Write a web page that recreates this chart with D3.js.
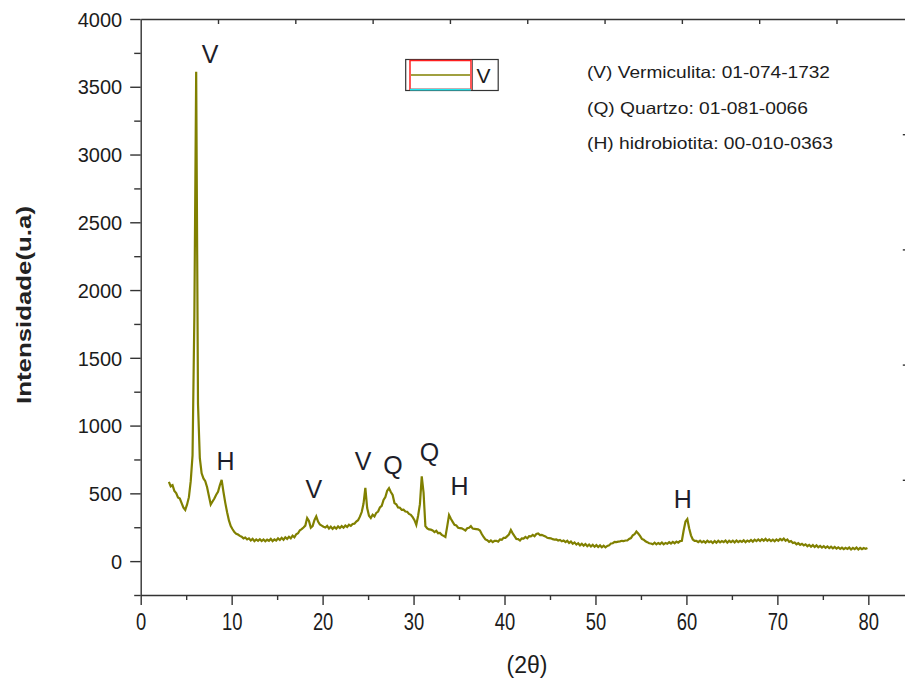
<!DOCTYPE html>
<html>
<head>
<meta charset="utf-8">
<script src="https://cdn.jsdelivr.net/npm/d3@7"></script>
<style>
  body { margin: 0; background: #fff; }
  svg { display: block; font-family: "Liberation Sans", Arial, sans-serif; }
</style>
</head>
<body>
<svg id="chart" width="905" height="682"></svg>
<script>
// Step-scan XRD pattern: first angle and step in degrees 2θ
const scanStart = 3.1;
const scanStep = 0.2;

// Counts per step, one row per 2° (3.1–4.9, 5.1–6.9, ...)
const intensity = [
  585, 552, 560, 518, 502, 470, 462, 428, 395, 378,
  418, 472, 590, 780, 1810, 3610, 1160, 760, 648, 610,
  590, 545, 480, 418, 440, 462, 490, 512, 560, 600,
  510, 430, 360, 300, 258, 235, 214, 202, 196, 186,
  180, 168, 174, 160, 168, 152, 164, 148, 160, 150,
  162, 148, 160, 146, 158, 150, 164, 148, 160, 152,
  168, 156, 172, 158, 176, 164, 180, 168, 188, 176,
  198, 206, 228, 236, 248, 262, 318, 296, 246, 258,
  302, 330, 292, 270, 262, 254, 248, 260, 240, 254,
  238, 252, 240, 256, 244, 258, 246, 262, 252, 268,
  260, 274, 276, 292, 302, 328, 362, 425, 540, 392,
  335, 318, 342, 330, 356, 366, 396, 408, 452, 472,
  520, 538, 510, 488, 428, 420, 396, 394, 378, 380,
  366, 364, 348, 342, 324, 302, 268, 335, 420, 625,
  505, 258, 242, 234, 232, 226, 214, 224, 206, 208,
  194, 186, 178, 256, 340, 312, 290, 268, 264, 246,
  244, 242, 234, 226, 242, 246, 258, 240, 238, 236,
  234, 226, 200, 178, 160, 154, 142, 152, 140, 150,
  150, 144, 160, 158, 172, 172, 184, 198, 230, 205,
  184, 164, 162, 152, 168, 166, 178, 168, 184, 182,
  194, 184, 200, 204, 192, 194, 188, 182, 172, 170,
  168, 162, 158, 160, 152, 156, 146, 152, 140, 150,
  134, 144, 128, 138, 122, 132, 116, 128, 114, 126,
  110, 122, 108, 120, 106, 118, 104, 116, 102, 114,
  102, 112, 116, 130, 132, 142, 140, 144, 146, 150,
  148, 152, 152, 164, 170, 190, 198, 218, 204, 186,
  164, 158, 146, 140, 132, 130, 124, 136, 124, 134,
  126, 138, 124, 134, 128, 140, 130, 142, 132, 144,
  136, 148, 150, 228, 292, 310, 242, 190, 160, 150,
  150, 140, 150, 138, 148, 136, 150, 140, 146, 134,
  148, 136, 150, 138, 148, 140, 152, 136, 150, 140,
  150, 138, 152, 140, 150, 142, 154, 140, 152, 144,
  156, 144, 158, 148, 160, 148, 162, 150, 164, 150,
  160, 148, 158, 146, 160, 150, 164, 154, 166, 150,
  160, 142, 148, 134, 138, 124, 132, 120, 128, 116,
  124, 110, 120, 106, 118, 104, 116, 102, 112, 100,
  110, 98, 108, 96, 106, 94, 104, 92, 102, 90,
  100, 88, 98, 90, 100, 86, 98, 88, 100, 86,
  98, 88, 96, 90, 96
];

// Axis ranges and ticks
const xDomain = [0, 85];
const yDomain = [-250, 4000];
const xTickValues = [0, 10, 20, 30, 40, 50, 60, 70, 80];
const xMinorTickValues = [5, 15, 25, 35, 45, 55, 65, 75, 85];
const yTickValues = [0, 500, 1000, 1500, 2000, 2500, 3000, 3500, 4000];
const yMinorTickValues = [-250, 250, 750, 1250, 1750, 2250, 2750, 3250, 3750];
const topTickValues = [8.5, 17, 25.5, 34, 42.5, 51, 59.5, 68, 76.5];
const rightTickValues = [600, 1450, 2300, 3150];

// Phase identification letters (angle, intensity level of the letter baseline)
const phaseLetters = ["V", "H", "V", "V", "Q", "Q", "H", "H"];
const phaseLetterTheta = [7.62, 9.32, 19.05, 24.44, 27.74, 31.75, 35.05, 59.6];
const phaseLetterLevel = [3675, 672, 466, 672, 643, 739, 488, 392];

// Reference cards
const phaseCards = [
  "(V) Vermiculita: 01-074-1732",
  "(Q) Quartzo: 01-081-0066",
  "(H) hidrobiotita: 00-010-0363"
];
const seriesName = "V";

const xTitle = "(2θ)";
const yTitle = "Intensidade(u.a)";

const traceColor = "#808000";
const axisColor = "#333";
const textColor = "#1c1c1c";

const svg = d3.select("#chart");

const x = d3.scaleLinear().domain(xDomain).range([140.7, 913.8]);
const y = d3.scaleLinear().domain(yDomain).range([595, 19]);

const points = intensity.map((v, i) => ({ t: scanStart + i * scanStep, v }));

// Trace
svg.append("path")
  .datum(points)
  .attr("fill", "none")
  .attr("stroke", traceColor)
  .attr("stroke-width", 2.2)
  .attr("stroke-linejoin", "miter")
  .attr("d", d3.line().x(d => x(d.t)).y(d => y(d.v)));

function styleAxis(g) {
  g.selectAll("path, line").attr("stroke", axisColor).attr("stroke-width", 1.4);
  g.selectAll("text").attr("fill", textColor);
}

// Bottom axis
const gx = svg.append("g").attr("transform", `translate(0,${y(yDomain[0])})`);
gx.call(d3.axisBottom(x).tickValues(xTickValues).tickSize(10).tickSizeOuter(0).tickFormat(d3.format("d")));
gx.append("g").call(d3.axisBottom(x).tickValues(xMinorTickValues).tickSize(5).tickFormat(""))
  .select(".domain").remove();
gx.selectAll(".tick text")
  .attr("font-size", 23)
  .attr("y", 0)
  .attr("dy", 0)
  .attr("transform", "translate(0,35) scale(0.8,1)")
  .attr("font-family", "Liberation Sans, Arial, sans-serif");
styleAxis(gx);

// Left axis
const gy = svg.append("g").attr("transform", `translate(${x(xDomain[0])},0)`);
gy.call(d3.axisLeft(y).tickValues(yTickValues).tickSize(10.5).tickSizeOuter(0).tickFormat(d3.format("d")));
gy.append("g").call(d3.axisLeft(y).tickValues(yMinorTickValues).tickSize(6.5).tickFormat(""))
  .select(".domain").remove();
gy.selectAll(".tick text")
  .attr("font-size", 20)
  .attr("x", -18.5)
  .attr("dy", "0.36em")
  .attr("font-family", "Liberation Sans, Arial, sans-serif");
styleAxis(gy);

// Top frame with inward ticks
const gt = svg.append("g").attr("transform", `translate(0,${y(yDomain[1])})`);
gt.call(d3.axisTop(x).tickValues(topTickValues).tickSize(-5).tickSizeOuter(0).tickFormat(""));
styleAxis(gt);

// Right frame with inward ticks
const gr = svg.append("g").attr("transform", `translate(${x(xDomain[1])},0)`);
gr.call(d3.axisRight(y).tickValues(rightTickValues).tickSize(-11).tickSizeOuter(0).tickFormat(""));
styleAxis(gr);

// Axis titles
svg.append("text")
  .attr("x", 527)
  .attr("y", 673)
  .attr("text-anchor", "middle")
  .attr("font-size", 23)
  .attr("fill", textColor)
  .text(xTitle);

svg.append("text")
  .attr("transform", "translate(31,305) rotate(-90)")
  .attr("text-anchor", "middle")
  .attr("font-size", 21)
  .attr("font-weight", "bold")
  .attr("textLength", 198)
  .attr("lengthAdjust", "spacingAndGlyphs")
  .attr("fill", "#222")
  .text(yTitle);

// Phase letters above the peaks
svg.append("g").selectAll("text")
  .data(phaseLetters)
  .join("text")
  .attr("x", (d, i) => x(phaseLetterTheta[i]))
  .attr("y", (d, i) => y(phaseLetterLevel[i]))
  .attr("text-anchor", "middle")
  .attr("font-size", 25)
  .attr("fill", "#1e1e2a")
  .text(d => d);

// Reference card list
const cardWidths = [243, 221, 246];
const cardBaselines = [78, 114, 149];
svg.append("g").selectAll("text")
  .data(phaseCards)
  .join("text")
  .attr("x", 587)
  .attr("y", (d, i) => cardBaselines[i])
  .attr("font-size", 16.5)
  .attr("textLength", (d, i) => cardWidths[i])
  .attr("lengthAdjust", "spacingAndGlyphs")
  .attr("fill", textColor)
  .text(d => d);

// Series legend
const lg = svg.append("g");
lg.append("rect")
  .attr("x", 405.7).attr("y", 59.5).attr("width", 92.5).attr("height", 31)
  .attr("fill", "#fff").attr("stroke", "#333").attr("stroke-width", 1.2);
lg.append("rect")
  .attr("x", 410).attr("y", 60.5).attr("width", 61).attr("height", 28.8)
  .attr("fill", "none").attr("stroke", "#ff2020").attr("stroke-width", 1.5);
lg.append("line")
  .attr("x1", 410).attr("x2", 471).attr("y1", 89.6).attr("y2", 89.6)
  .attr("stroke", "#20e8f0").attr("stroke-width", 1.6);
lg.append("line")
  .attr("x1", 472.5).attr("x2", 472.5).attr("y1", 60).attr("y2", 90)
  .attr("stroke", "#444").attr("stroke-width", 0.8);
lg.append("line")
  .attr("x1", 411).attr("x2", 470).attr("y1", 75).attr("y2", 75)
  .attr("stroke", traceColor).attr("stroke-width", 1.6);
lg.append("text")
  .attr("x", 483.5).attr("y", 83.3)
  .attr("text-anchor", "middle")
  .attr("font-size", 21)
  .attr("fill", textColor)
  .text(seriesName);
</script>
</body>
</html>
